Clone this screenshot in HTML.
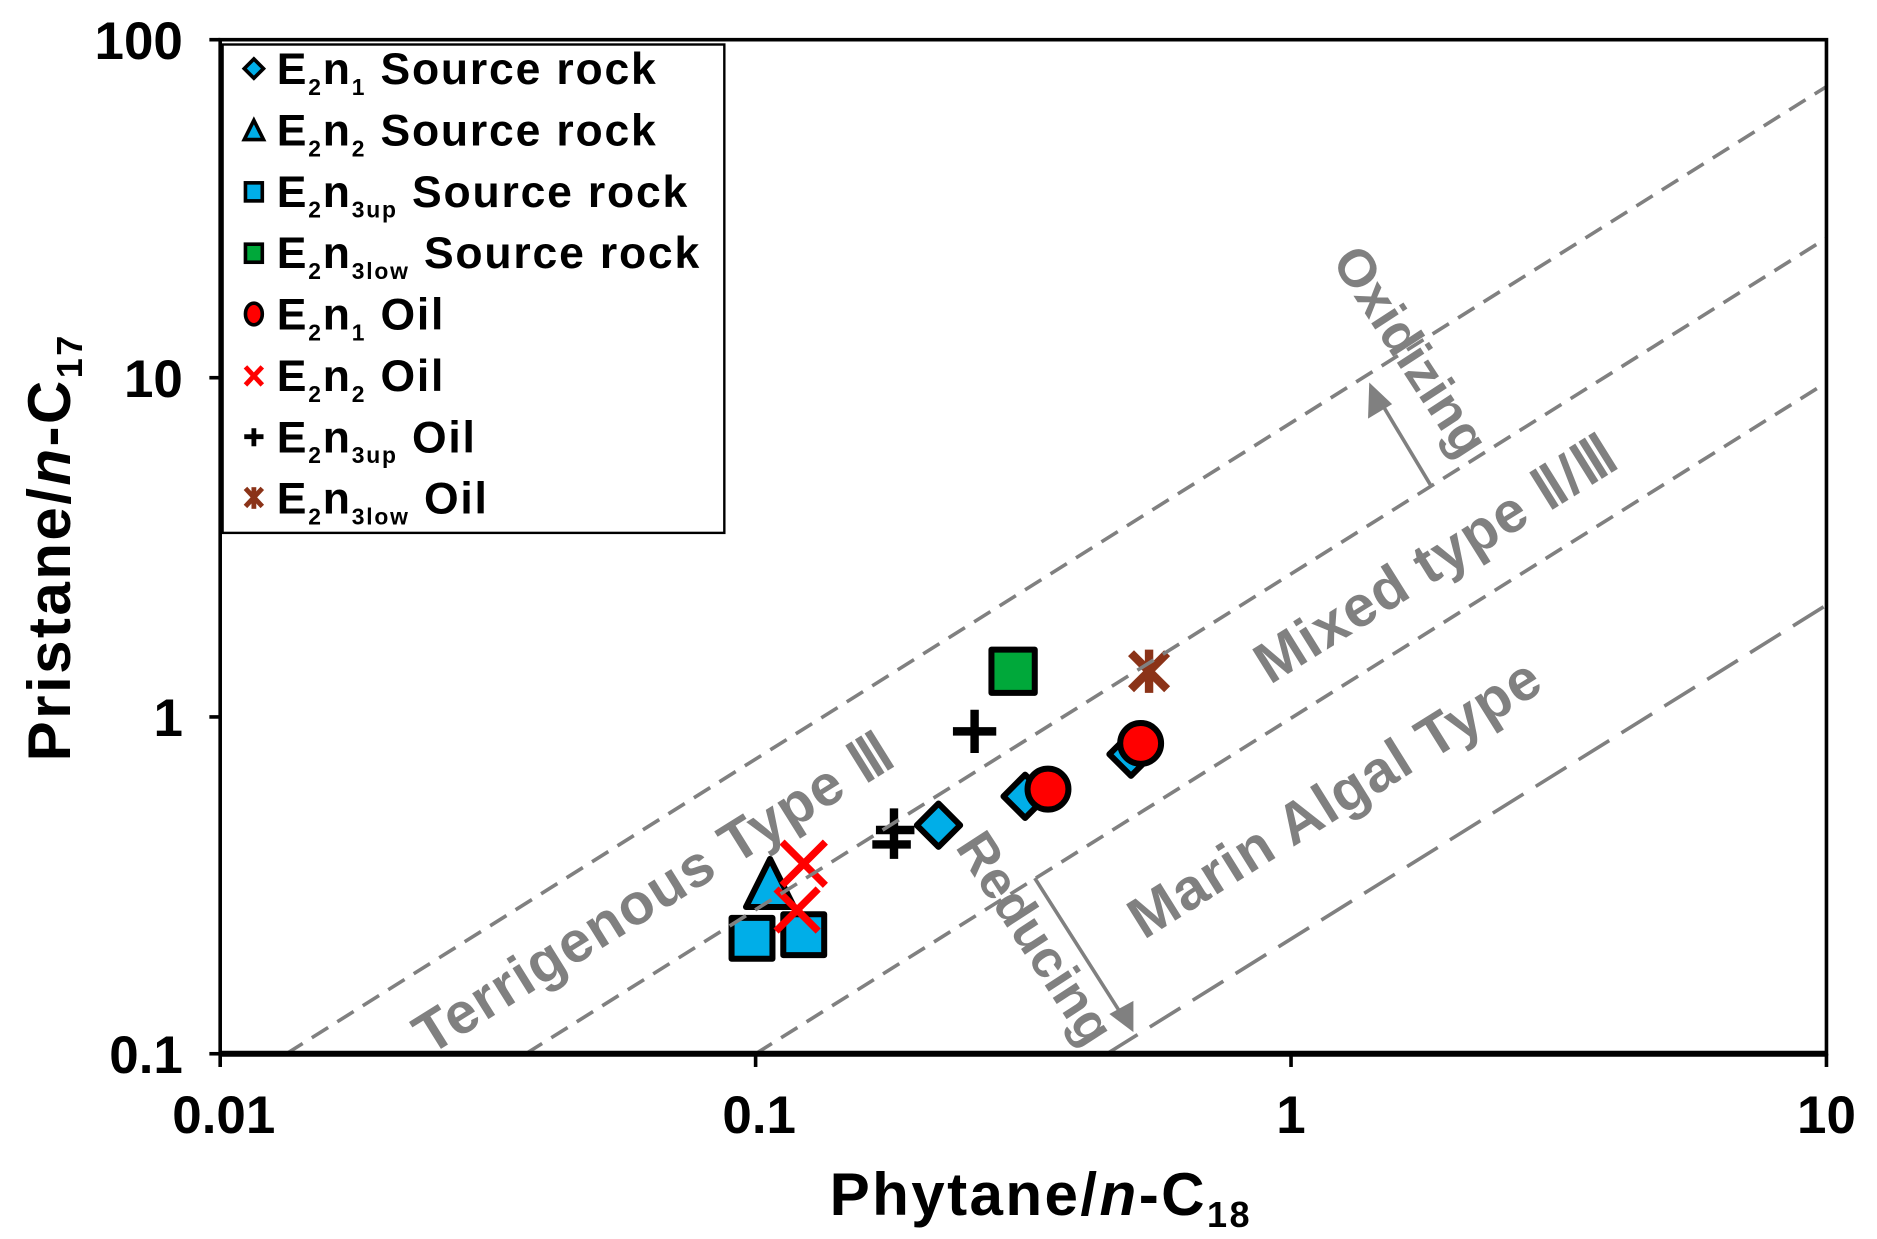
<!DOCTYPE html>
<html><head><meta charset="utf-8"><style>
html,body{margin:0;padding:0;background:#fff;}
svg{display:block;}
text{font-family:"Liberation Sans",Arial,sans-serif;font-weight:bold;}
</style></head><body>
<svg width="1877" height="1239" viewBox="0 0 1560 1030" preserveAspectRatio="none" xmlns="http://www.w3.org/2000/svg">
<rect x="0" y="0" width="1560" height="1030" fill="#fff"/>
<g stroke="#000" stroke-width="5" stroke-linejoin="round">
  <polygon points="640,714 660,754 620,754" fill="#00aee8"/>
  <rect x="608" y="763" width="34" height="34" fill="#00aee8"/>
  <rect x="651" y="760" width="34" height="34" fill="#00aee8"/>
  <polygon points="780,668 798,686 780,704 762,686" fill="#00aee8"/>
  <polygon points="852,644 870,662 852,680 834,662" fill="#00aee8"/>
  <polygon points="940,609 958,627 940,645 922,627" fill="#00aee8"/>
  <rect x="824" y="540" width="36" height="36" fill="#00a83a"/>
  <circle cx="871" cy="656" r="17" fill="#f00"/>
  <circle cx="948" cy="618" r="17" fill="#f00"/>
</g>
<g stroke="#f00" stroke-width="6">
  <line x1="650" y1="700" x2="686" y2="736"/><line x1="686" y1="700" x2="650" y2="736"/>
  <line x1="645" y1="739" x2="680" y2="774"/><line x1="680" y1="739" x2="645" y2="774"/>
</g>
<g stroke="#000" stroke-width="7">
  <line x1="810" y1="590" x2="810" y2="626"/><line x1="792" y1="608" x2="828" y2="608"/>
  <line x1="743" y1="672" x2="743" y2="714"/><line x1="728" y1="690" x2="760" y2="690"/><line x1="725" y1="702" x2="757" y2="702"/>
</g>
<g stroke="#8b3318" stroke-width="7">
  <line x1="940" y1="543" x2="970" y2="573"/><line x1="970" y1="543" x2="940" y2="573"/><line x1="955" y1="540" x2="955" y2="576"/>
</g>
<g stroke="#808080" stroke-width="3" fill="none">
  <line x1="238" y1="876" x2="1518" y2="72" stroke-dasharray="16,9"/>
  <line x1="437" y1="876" x2="1518" y2="198" stroke-dasharray="16,9"/>
  <line x1="628" y1="876" x2="1518" y2="318" stroke-dasharray="16,9"/>
  <line x1="920" y1="876" x2="1518" y2="503" stroke-dasharray="30,12"/>
  <line x1="1190" y1="405" x2="1148" y2="335"/>
  <line x1="860" y1="730" x2="930" y2="840"/>
</g>
<polygon points="1138,318 1137,348 1157,336" fill="#808080"/>
<polygon points="942,858 922,843 942,832" fill="#808080"/>
<g fill="#808080" font-size="48">
  <text transform="translate(552,756) rotate(-32)" text-anchor="middle" letter-spacing="1">Terrigenous Type Ⅲ</text>
  <text transform="translate(1202,478) rotate(-32)" text-anchor="middle" letter-spacing="1">Mixed type Ⅱ/Ⅲ</text>
  <text transform="translate(1118,677) rotate(-32)" text-anchor="middle" letter-spacing="1">Marin Algal Type</text>
  <text transform="translate(1160,300) rotate(57)" text-anchor="middle" font-size="44">Oxidizing</text>
  <text transform="translate(848,788) rotate(57)" text-anchor="middle" font-size="44">Reducing</text>
</g>
<g stroke="#000" stroke-width="3" fill="none">
  <rect x="183" y="33" width="1335" height="843"/>
  <line x1="174" y1="33" x2="183" y2="33"/><line x1="174" y1="314" x2="183" y2="314"/>
  <line x1="174" y1="596" x2="183" y2="596"/><line x1="174" y1="876" x2="183" y2="876"/>
  <line x1="183" y1="876" x2="183" y2="887"/><line x1="628" y1="876" x2="628" y2="887"/>
  <line x1="1073" y1="876" x2="1073" y2="887"/><line x1="1518" y1="876" x2="1518" y2="887"/>
</g>
<line x1="183" y1="876" x2="1518" y2="876" stroke="#000" stroke-width="5"/>
<g font-size="44" fill="#000">
  <text x="152" y="49" text-anchor="end">100</text>
  <text x="152" y="330" text-anchor="end">10</text>
  <text x="152" y="612" text-anchor="end">1</text>
  <text x="152" y="892" text-anchor="end">0.1</text>
  <text x="186" y="942" text-anchor="middle">0.01</text>
  <text x="631" y="942" text-anchor="middle">0.1</text>
  <text x="1073" y="942" text-anchor="middle">1</text>
  <text x="1518" y="942" text-anchor="middle">10</text>
</g>
<text x="865" y="1010" text-anchor="middle" font-size="50" letter-spacing="2" fill="#000">Phytane/<tspan font-style="italic">n</tspan>-C<tspan font-size="30" dy="10">18</tspan></text>
<text transform="translate(58,455) rotate(-90)" text-anchor="middle" font-size="50" letter-spacing="2" fill="#000">Pristane/<tspan font-style="italic">n</tspan>-C<tspan font-size="30" dy="10">17</tspan></text>
<rect x="185" y="37" width="417" height="406" fill="#fff" stroke="#000" stroke-width="2"/>
<g stroke="#000" stroke-width="3">
  <polygon points="211,49 219,57 211,65 203,57" fill="#00aee8"/>
  <polygon points="211,100 219,116 203,116" fill="#00aee8"/>
  <rect x="204" y="152" width="14" height="15" fill="#00aee8"/>
  <rect x="204" y="203" width="14" height="15" fill="#00a83a"/>
  <ellipse cx="211" cy="261" rx="7" ry="9" fill="#f00"/>
</g>
<g stroke="#f00" stroke-width="4"><line x1="204" y1="305" x2="218" y2="320"/><line x1="218" y1="305" x2="204" y2="320"/></g>
<g stroke="#000" stroke-width="4"><line x1="211" y1="356" x2="211" y2="371"/><line x1="203" y1="363" x2="219" y2="363"/></g>
<g stroke="#8b3318" stroke-width="4"><line x1="204" y1="406" x2="218" y2="421"/><line x1="218" y1="406" x2="204" y2="421"/><line x1="211" y1="405" x2="211" y2="423"/></g>
<g font-size="37" fill="#000" letter-spacing="1.5">
  <text x="230" y="70">E<tspan font-size="19" dy="9">2</tspan><tspan dy="-9">n</tspan><tspan font-size="19" dy="9">1</tspan><tspan dy="-9"> Source rock</tspan></text>
  <text x="230" y="121">E<tspan font-size="19" dy="9">2</tspan><tspan dy="-9">n</tspan><tspan font-size="19" dy="9">2</tspan><tspan dy="-9"> Source rock</tspan></text>
  <text x="230" y="172">E<tspan font-size="19" dy="9">2</tspan><tspan dy="-9">n</tspan><tspan font-size="19" dy="9">3up</tspan><tspan dy="-9"> Source rock</tspan></text>
  <text x="230" y="223">E<tspan font-size="19" dy="9">2</tspan><tspan dy="-9">n</tspan><tspan font-size="19" dy="9">3low</tspan><tspan dy="-9"> Source rock</tspan></text>
  <text x="230" y="274">E<tspan font-size="19" dy="9">2</tspan><tspan dy="-9">n</tspan><tspan font-size="19" dy="9">1</tspan><tspan dy="-9"> Oil</tspan></text>
  <text x="230" y="325">E<tspan font-size="19" dy="9">2</tspan><tspan dy="-9">n</tspan><tspan font-size="19" dy="9">2</tspan><tspan dy="-9"> Oil</tspan></text>
  <text x="230" y="376">E<tspan font-size="19" dy="9">2</tspan><tspan dy="-9">n</tspan><tspan font-size="19" dy="9">3up</tspan><tspan dy="-9"> Oil</tspan></text>
  <text x="230" y="427">E<tspan font-size="19" dy="9">2</tspan><tspan dy="-9">n</tspan><tspan font-size="19" dy="9">3low</tspan><tspan dy="-9"> Oil</tspan></text>
</g>
</svg>
</body></html>
